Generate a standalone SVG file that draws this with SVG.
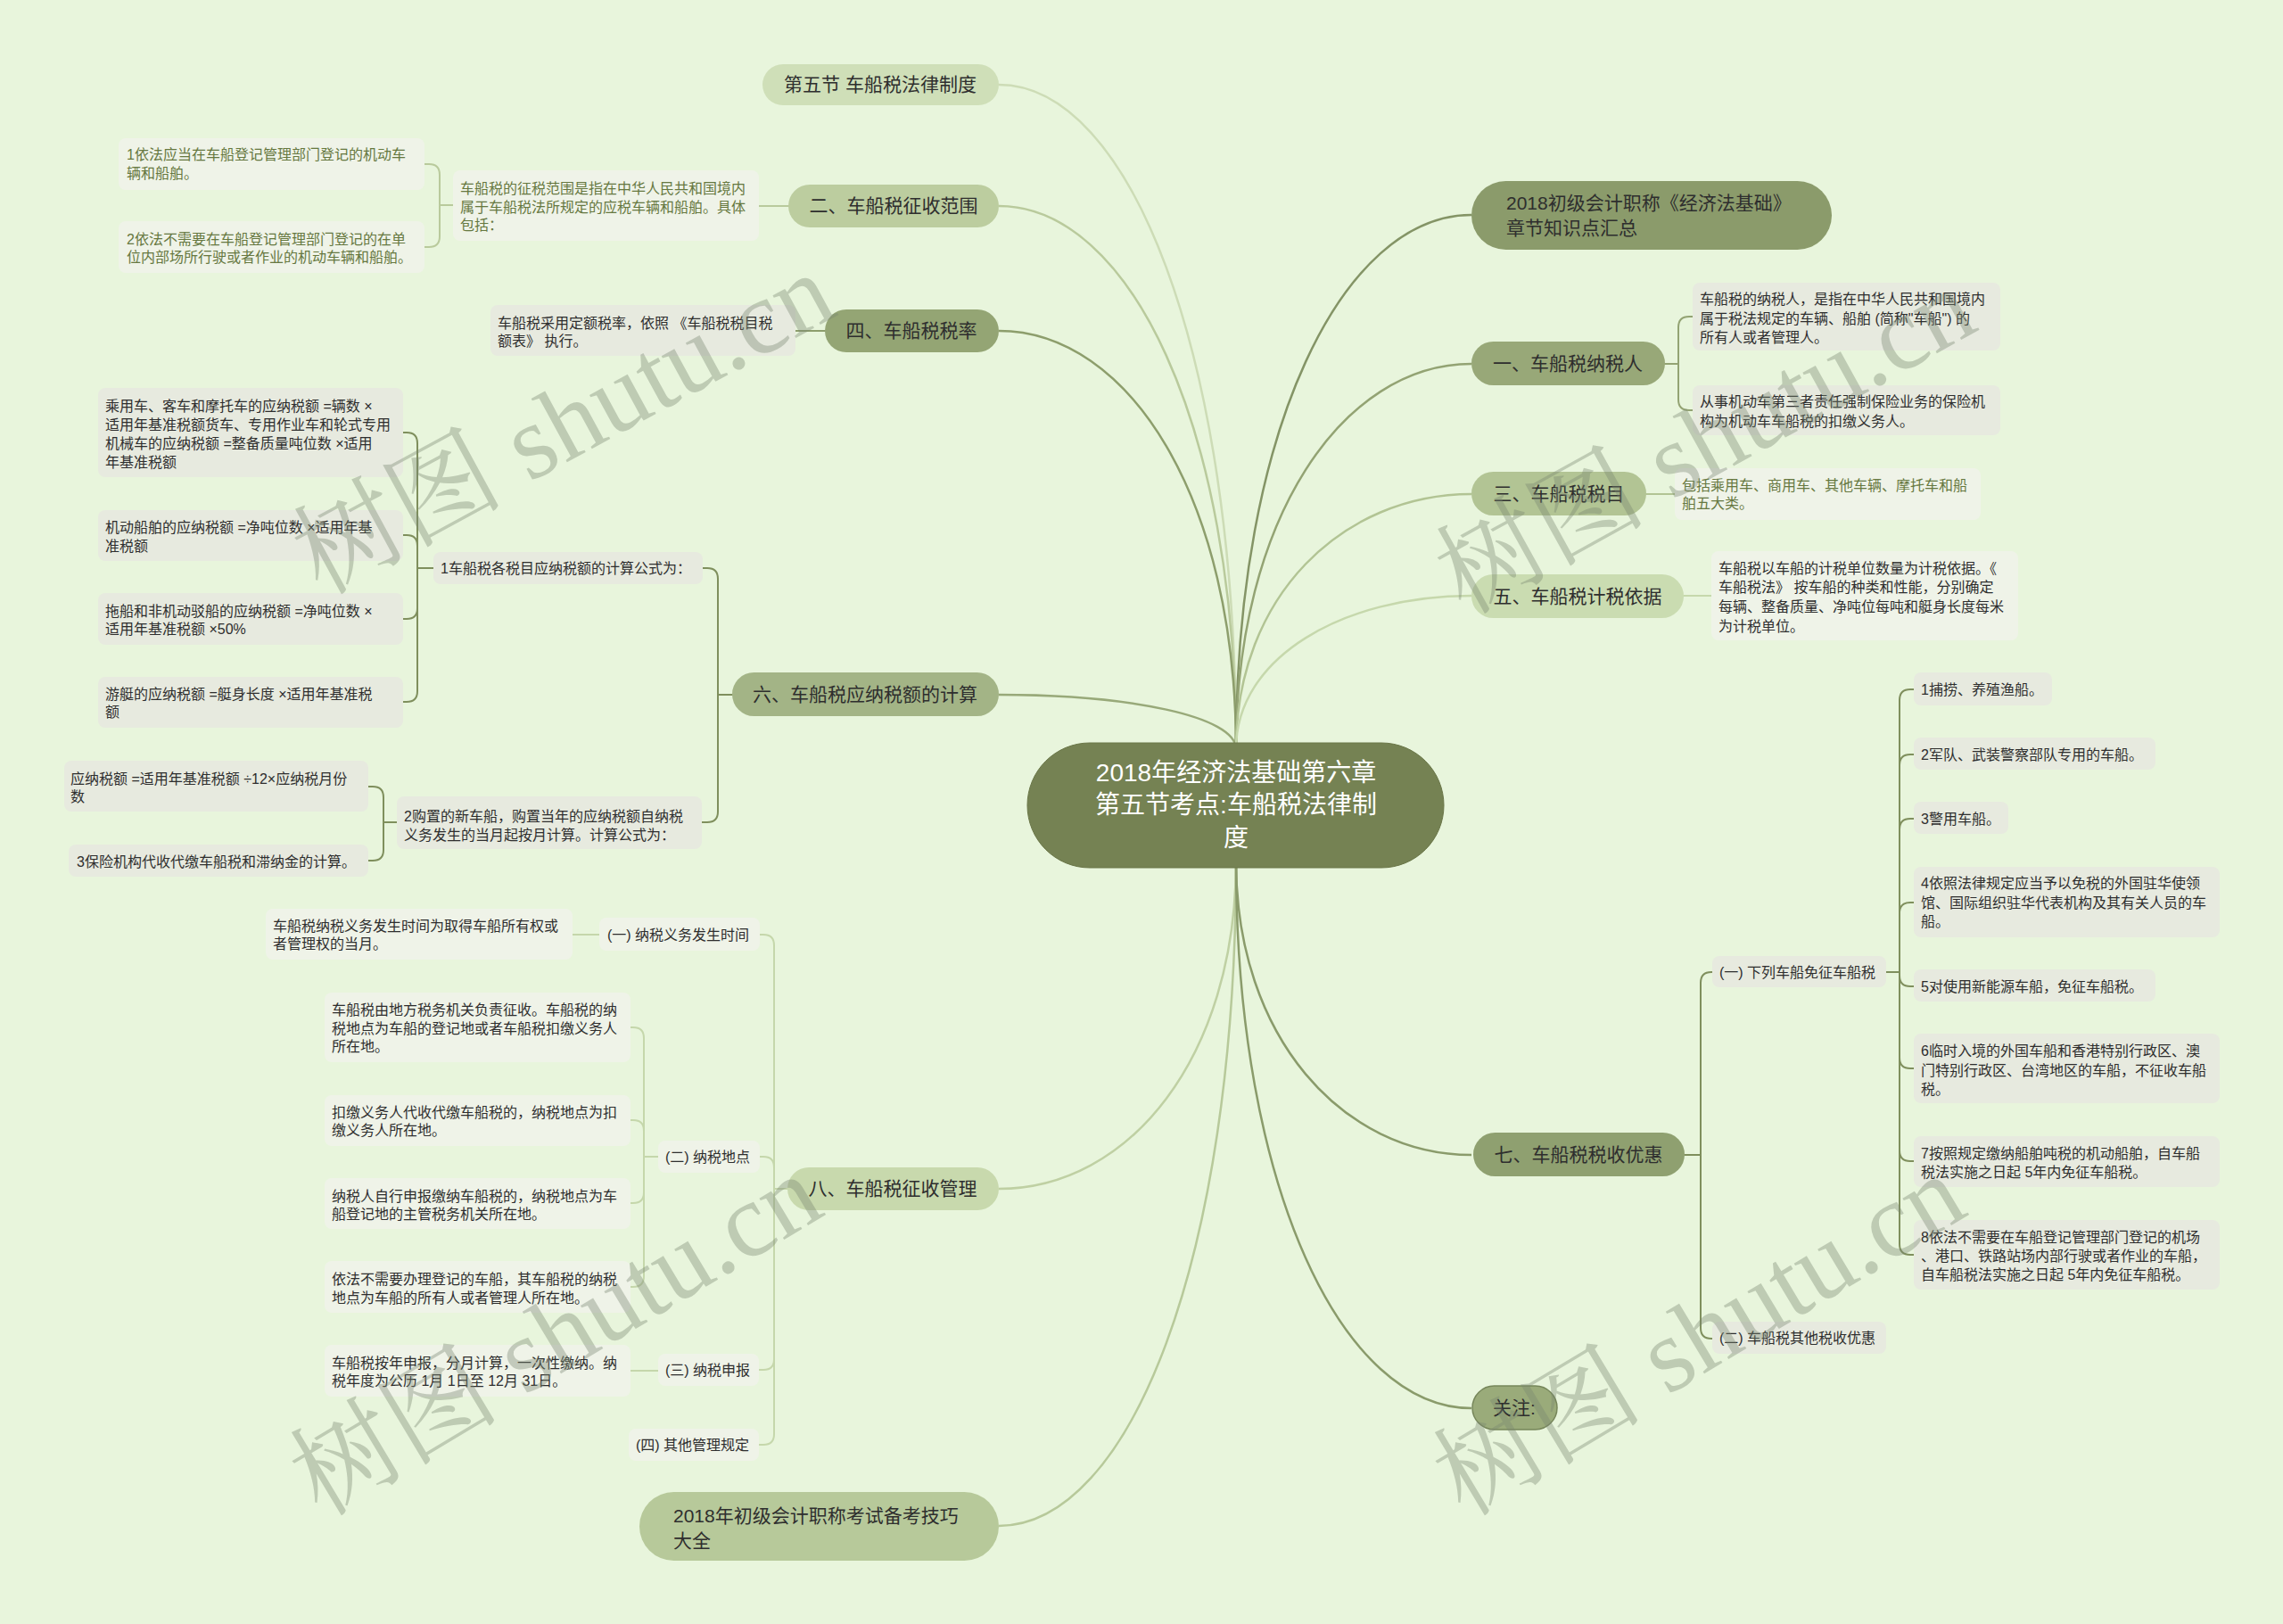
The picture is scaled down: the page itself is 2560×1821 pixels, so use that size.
<svg xmlns="http://www.w3.org/2000/svg" width="2560" height="1821" viewBox="0 0 2560 1821">
<style>
text{font-family:"Liberation Sans","Noto Sans CJK SC",sans-serif;fill:#2e2e2e}
.n{font-size:21px;text-anchor:middle}
.nl{font-size:21px}
.c{font-size:28px;fill:#ffffff;text-anchor:middle}
.t{font-size:16px}
.g{fill:#667840}
.leaf{fill:#e7eadf}
.leafw{fill:#eff3e8}
.br{fill:none;stroke-width:2;stroke-linecap:round}
.main{fill:none;stroke-width:2.5}
.wm{font-family:"Liberation Serif","Noto Serif CJK SC","Noto Sans CJK SC",serif;font-size:118px;fill:#788770;fill-opacity:0.38}
</style>
<rect width="2560" height="1821" fill="#e8f5dc"/>

<g id="connectors">
<path class="main" stroke="#cddcb6" d="M1386,840 C1386,393 1266,95 1120,95"/>
<path class="main" stroke="#b9ca9c" d="M1386,840 C1386,475 1266,231 1120,231"/>
<path class="main" stroke="#8d9e6c" d="M1386,840 C1386,559 1266,371 1120,371"/>
<path class="main" stroke="#98a979" d="M1386,840 C1386,803 1266,779 1120,779"/>
<path class="main" stroke="#bfd0a3" d="M1386,966 C1386,1186 1266,1333 1120,1333"/>
<path class="main" stroke="#b7c99a" d="M1386,966 C1386,1413 1266,1711 1120,1711"/>
<path class="main" stroke="#849466" d="M1386,840 C1386,481 1506,241 1650,241"/>
<path class="main" stroke="#93a373" d="M1386,840 C1386,581 1506,408 1650,408"/>
<path class="main" stroke="#b2c494" d="M1386,840 C1386,668 1506,554 1650,554"/>
<path class="main" stroke="#c6d8ac" d="M1386,840 C1386,737 1506,668 1650,668"/>
<path class="main" stroke="#8a9b6b" d="M1386,966 C1386,1163 1506,1295 1650,1295"/>
<path class="main" stroke="#8a9b6b" d="M1386,966 C1386,1334 1506,1579 1650,1579"/>

<g stroke="#b9ca9c" class="br">
<path d="M884,231 L851,231"/>
<path d="M508,230 L493,230"/>
<path d="M493,230 L493,196 Q493,184 481,184 L476,184"/>
<path d="M493,230 L493,265 Q493,277 481,277 L476,277"/>
</g>
<path class="br" stroke="#8d9e6c" d="M925,371 L892,371"/>
<g stroke="#7f8f5d" class="br">
<path d="M821,779 L805,779"/>
<path d="M805,779 L805,649 Q805,637 793,637 L788,637"/>
<path d="M805,779 L805,910 Q805,922 793,922 L787,922"/>
<path d="M486,637 L468,637"/>
<path d="M468,637 L468,497 Q468,485 456,485 L452,485"/>
<path d="M468,637 L468,612 Q468,600 456,600 L452,600"/>
<path d="M468,637 L468,682 Q468,694 456,694 L452,694"/>
<path d="M468,637 L468,775 Q468,787 456,787 L452,787"/>
<path d="M445,922 L430,922"/>
<path d="M430,922 L430,894 Q430,882 418,882 L413,882"/>
<path d="M430,922 L430,953 Q430,965 418,965 L413,965"/>
</g>
<g stroke="#c5d7ab" class="br">
<path d="M883,1333 L868,1333"/>
<path d="M868,1333 L868,1060 Q868,1048 856,1048 L852,1048"/>
<path d="M868,1333 L868,1309 Q868,1297 856,1297 L852,1297"/>
<path d="M868,1333 L868,1524 Q868,1536 856,1536 L851,1536"/>
<path d="M868,1333 L868,1608 Q868,1620 856,1620 L851,1620"/>
<path d="M672,1048 L642,1048"/>
<path d="M738,1297 L722,1297"/>
<path d="M722,1297 L722,1164 Q722,1152 710,1152 L707,1152"/>
<path d="M722,1297 L722,1268 Q722,1256 710,1256 L707,1256"/>
<path d="M722,1297 L722,1337 Q722,1349 710,1349 L707,1349"/>
<path d="M722,1297 L722,1431 Q722,1443 710,1443 L707,1443"/>
<path d="M738,1537 L707,1537"/>
</g>
<g stroke="#93a373" class="br">
<path d="M1867,408 L1882,408"/>
<path d="M1882,408 L1882,367 Q1882,355 1894,355 L1898,355"/>
<path d="M1882,408 L1882,448 Q1882,460 1894,460 L1898,460"/>
</g>
<path class="br" stroke="#b2c494" d="M1846,554 L1878,554"/>
<path class="br" stroke="#c6d8ac" d="M1888,668 L1919,668"/>
<g stroke="#7f8f5d" class="br">
<path d="M1889,1295 L1907,1295"/>
<path d="M1907,1295 L1907,1102 Q1907,1090 1919,1090 L1920,1090"/>
<path d="M1907,1295 L1907,1489 Q1907,1501 1919,1501 L1920,1501"/>
<path d="M2115,1090 L2130,1090"/>
<path d="M2130,1090 L2130,785 Q2130,773 2142,773 L2146,773"/>
<path d="M2130,1090 L2130,858 Q2130,846 2142,846 L2146,846"/>
<path d="M2130,1090 L2130,930 Q2130,918 2142,918 L2146,918"/>
<path d="M2130,1090 L2130,1024 Q2130,1012 2142,1012 L2146,1012"/>
<path d="M2130,1090 L2130,1094 Q2130,1106 2142,1106 L2146,1106"/>
<path d="M2130,1090 L2130,1186 Q2130,1198 2142,1198 L2146,1198"/>
<path d="M2130,1090 L2130,1290 Q2130,1302 2142,1302 L2146,1302"/>
<path d="M2130,1090 L2130,1395 Q2130,1407 2142,1407 L2146,1407"/>
</g>
</g>

<g id="center">
<rect x="1152" y="833" width="467" height="140" rx="70" fill="#758253" stroke="#6a7648" stroke-width="1"/>
<text class="c" x="1386" y="876">2018年经济法基础第六章</text>
<text class="c" x="1386" y="912">第五节考点:车船税法律制</text>
<text class="c" x="1386" y="949">度</text>
</g>

<g id="n-5">
<rect x="855" y="72" width="265" height="46" rx="23" fill="#cfdfb8"/>
<text class="n" x="987" y="102">第五节 车船税法律制度</text>
</g>
<g id="n-2">
<rect x="884" y="207" width="236" height="48" rx="24" fill="#bccd9f"/>
<text class="n" x="1002" y="238">二、车船税征收范围</text>
</g>
<g id="n-2-a">
<rect class="leafw" x="508" y="191" width="343" height="79" rx="8"/>
<text class="t g" x="516" y="217">车船税的征税范围是指在中华人民共和国境内</text>
<text class="t g" x="516" y="238">属于车船税法所规定的应税车辆和船舶。具体</text>
<text class="t g" x="516" y="258">包括：</text>
</g>
<g id="n-2-a-1">
<rect class="leafw" x="133" y="155" width="343" height="58" rx="8"/>
<text class="t g" x="142" y="179">1依法应当在车船登记管理部门登记的机动车</text>
<text class="t g" x="142" y="200">辆和船舶。</text>
</g>
<g id="n-2-a-2">
<rect class="leafw" x="133" y="248" width="343" height="58" rx="8"/>
<text class="t g" x="142" y="274">2依法不需要在车船登记管理部门登记的在单</text>
<text class="t g" x="142" y="294">位内部场所行驶或者作业的机动车辆和船舶。</text>
</g>

<g id="n-4">
<rect x="925" y="347" width="195" height="48" rx="24" fill="#94a574"/>
<text class="n" x="1022" y="378">四、车船税税率</text>
</g>
<g id="n-4-a">
<rect class="leaf" x="550" y="342" width="342" height="57" rx="8"/>
<text class="t" x="558" y="368">车船税采用定额税率，依照 《车船税税目税</text>
<text class="t" x="558" y="388">额表》 执行。</text>
</g>

<g id="n-6">
<rect x="821" y="754" width="299" height="49" rx="24.5" fill="#a3b486"/>
<text class="n" x="970" y="786">六、车船税应纳税额的计算</text>
</g>
<g id="n-6-1">
<rect class="leaf" x="486" y="619" width="302" height="36" rx="8"/>
<text class="t" x="494" y="643">1车船税各税目应纳税额的计算公式为：</text>
</g>
<g id="n-6-1-a">
<rect class="leaf" x="110" y="435" width="342" height="100" rx="8"/>
<text class="t" x="118" y="461">乘用车、客车和摩托车的应纳税额 =辆数 ×</text>
<text class="t" x="118" y="482">适用年基准税额货车、专用作业车和轮式专用</text>
<text class="t" x="118" y="503">机械车的应纳税额 =整备质量吨位数 ×适用</text>
<text class="t" x="118" y="524">年基准税额</text>
</g>
<g id="n-6-1-b">
<rect class="leaf" x="110" y="572" width="342" height="57" rx="8"/>
<text class="t" x="118" y="597">机动船舶的应纳税额 =净吨位数 ×适用年基</text>
<text class="t" x="118" y="618">准税额</text>
</g>
<g id="n-6-1-c">
<rect class="leaf" x="110" y="665" width="342" height="58" rx="8"/>
<text class="t" x="118" y="691">拖船和非机动驳船的应纳税额 =净吨位数 ×</text>
<text class="t" x="118" y="711">适用年基准税额 ×50%</text>
</g>
<g id="n-6-1-d">
<rect class="leaf" x="110" y="759" width="342" height="57" rx="8"/>
<text class="t" x="118" y="784">游艇的应纳税额 =艇身长度 ×适用年基准税</text>
<text class="t" x="118" y="804">额</text>
</g>
<g id="n-6-2">
<rect class="leaf" x="445" y="893" width="342" height="59" rx="8"/>
<text class="t" x="453" y="921">2购置的新车船，购置当年的应纳税额自纳税</text>
<text class="t" x="453" y="942">义务发生的当月起按月计算。计算公式为：</text>
</g>
<g id="n-6-2-a">
<rect class="leaf" x="72" y="853" width="341" height="57" rx="8"/>
<text class="t" x="79" y="879">应纳税额 =适用年基准税额 ÷12×应纳税月份</text>
<text class="t" x="79" y="899">数</text>
</g>
<g id="n-6-2-b">
<rect class="leaf" x="77" y="947" width="336" height="36" rx="8"/>
<text class="t" x="86" y="972">3保险机构代收代缴车船税和滞纳金的计算。</text>
</g>

<g id="n-8">
<rect x="883" y="1309" width="237" height="48" rx="24" fill="#c8d9ad"/>
<text class="n" x="1001" y="1340">八、车船税征收管理</text>
</g>
<g id="n-8-1">
<rect class="leafw" x="672" y="1029" width="180" height="37" rx="8"/>
<text class="t" x="681" y="1054">(一) 纳税义务发生时间</text>
</g>
<g id="n-8-1-a">
<rect class="leafw" x="298" y="1019" width="344" height="57" rx="8"/>
<text class="t" x="306" y="1044">车船税纳税义务发生时间为取得车船所有权或</text>
<text class="t" x="306" y="1064">者管理权的当月。</text>
</g>
<g id="n-8-2">
<rect class="leafw" x="738" y="1279" width="114" height="36" rx="8"/>
<text class="t" x="746" y="1303">(二) 纳税地点</text>
</g>
<g id="n-8-2-a">
<rect class="leafw" x="364" y="1113" width="343" height="78" rx="8"/>
<text class="t" x="372" y="1138">车船税由地方税务机关负责征收。车船税的纳</text>
<text class="t" x="372" y="1159">税地点为车船的登记地或者车船税扣缴义务人</text>
<text class="t" x="372" y="1179">所在地。</text>
</g>
<g id="n-8-2-b">
<rect class="leafw" x="364" y="1228" width="343" height="57" rx="8"/>
<text class="t" x="372" y="1253">扣缴义务人代收代缴车船税的，纳税地点为扣</text>
<text class="t" x="372" y="1273">缴义务人所在地。</text>
</g>
<g id="n-8-2-c">
<rect class="leafw" x="364" y="1321" width="343" height="57" rx="8"/>
<text class="t" x="372" y="1347">纳税人自行申报缴纳车船税的，纳税地点为车</text>
<text class="t" x="372" y="1367">船登记地的主管税务机关所在地。</text>
</g>
<g id="n-8-2-d">
<rect class="leafw" x="364" y="1414" width="343" height="58" rx="8"/>
<text class="t" x="372" y="1440">依法不需要办理登记的车船，其车船税的纳税</text>
<text class="t" x="372" y="1461">地点为车船的所有人或者管理人所在地。</text>
</g>
<g id="n-8-3">
<rect class="leafw" x="738" y="1518" width="113" height="36" rx="8"/>
<text class="t" x="746" y="1542">(三) 纳税申报</text>
</g>
<g id="n-8-3-a">
<rect class="leafw" x="364" y="1508" width="343" height="58" rx="8"/>
<text class="t" x="372" y="1534">车船税按年申报，分月计算，一次性缴纳。纳</text>
<text class="t" x="372" y="1554">税年度为公历 1月 1日至 12月 31日。</text>
</g>
<g id="n-8-4">
<rect class="leafw" x="705" y="1602" width="146" height="36" rx="8"/>
<text class="t" x="713" y="1626">(四) 其他管理规定</text>
</g>

<g id="n-exam">
<rect x="717" y="1673" width="403" height="77" rx="38.5" fill="#b7c99a"/>
<text class="nl" x="755" y="1707">2018年初级会计职称考试备考技巧</text>
<text class="nl" x="755" y="1735">大全</text>
</g>

<g id="n-summary">
<rect x="1650" y="203" width="404" height="77" rx="38.5" fill="#8b9b6b"/>
<text class="nl" x="1689" y="235">2018初级会计职称《经济法基础》</text>
<text class="nl" x="1689" y="263">章节知识点汇总</text>
</g>
<g id="n-1">
<rect x="1650" y="383" width="217" height="49" rx="24.5" fill="#98a878"/>
<text class="n" x="1758" y="415">一、车船税纳税人</text>
</g>
<g id="n-1-a">
<rect class="leaf" x="1898" y="317" width="345" height="76" rx="8"/>
<text class="t" x="1906" y="341">车船税的纳税人，是指在中华人民共和国境内</text>
<text class="t" x="1906" y="363">属于税法规定的车辆、船舶 (简称"车船") 的</text>
<text class="t" x="1906" y="384">所有人或者管理人。</text>
</g>
<g id="n-1-b">
<rect class="leaf" x="1898" y="432" width="345" height="56" rx="8"/>
<text class="t" x="1906" y="456">从事机动车第三者责任强制保险业务的保险机</text>
<text class="t" x="1906" y="478">构为机动车车船税的扣缴义务人。</text>
</g>
<g id="n-3">
<rect x="1650" y="529" width="196" height="49" rx="24.5" fill="#b2c494"/>
<text class="n" x="1748" y="561">三、车船税税目</text>
</g>
<g id="n-3-a">
<rect class="leafw" x="1878" y="525" width="343" height="58" rx="8"/>
<text class="t g" x="1886" y="550">包括乘用车、商用车、其他车辆、摩托车和船</text>
<text class="t g" x="1886" y="570">舶五大类。</text>
</g>
<g id="n-5b">
<rect x="1650" y="644" width="238" height="49" rx="24.5" fill="#cadcb1"/>
<text class="n" x="1769" y="676">五、车船税计税依据</text>
</g>
<g id="n-5b-a">
<rect class="leafw" x="1919" y="618" width="344" height="100" rx="8"/>
<text class="t" x="1927" y="643">车船税以车船的计税单位数量为计税依据。《</text>
<text class="t" x="1927" y="664">车船税法》 按车船的种类和性能，分别确定</text>
<text class="t" x="1927" y="686">每辆、整备质量、净吨位每吨和艇身长度每米</text>
<text class="t" x="1927" y="708">为计税单位。</text>
</g>

<g id="n-7">
<rect x="1652" y="1270" width="237" height="49" rx="24.5" fill="#8fa070"/>
<text class="n" x="1770" y="1302">七、车船税税收优惠</text>
</g>
<g id="n-7-1">
<rect class="leaf" x="1920" y="1072" width="195" height="35" rx="8"/>
<text class="t" x="1928" y="1096">(一) 下列车船免征车船税</text>
</g>
<g id="n-7-2">
<rect class="leaf" x="1920" y="1482" width="195" height="36" rx="8"/>
<text class="t" x="1928" y="1506">(二) 车船税其他税收优惠</text>
</g>
<g id="n-7-1-1">
<rect class="leaf" x="2146" y="754" width="155" height="37" rx="8"/>
<text class="t" x="2154" y="779">1捕捞、养殖渔船。</text>
</g>
<g id="n-7-1-2">
<rect class="leaf" x="2146" y="827" width="271" height="36" rx="8"/>
<text class="t" x="2154" y="852">2军队、武装警察部队专用的车船。</text>
</g>
<g id="n-7-1-3">
<rect class="leaf" x="2146" y="899" width="106" height="36" rx="8"/>
<text class="t" x="2154" y="924">3警用车船。</text>
</g>
<g id="n-7-1-4">
<rect class="leaf" x="2146" y="972" width="343" height="79" rx="8"/>
<text class="t" x="2154" y="996">4依照法律规定应当予以免税的外国驻华使领</text>
<text class="t" x="2154" y="1018">馆、国际组织驻华代表机构及其有关人员的车</text>
<text class="t" x="2154" y="1039">船。</text>
</g>
<g id="n-7-1-5">
<rect class="leaf" x="2146" y="1087" width="271" height="36" rx="8"/>
<text class="t" x="2154" y="1112">5对使用新能源车船，免征车船税。</text>
</g>
<g id="n-7-1-6">
<rect class="leaf" x="2146" y="1159" width="343" height="78" rx="8"/>
<text class="t" x="2154" y="1184">6临时入境的外国车船和香港特别行政区、澳</text>
<text class="t" x="2154" y="1206">门特别行政区、台湾地区的车船，不征收车船</text>
<text class="t" x="2154" y="1227">税。</text>
</g>
<g id="n-7-1-7">
<rect class="leaf" x="2146" y="1274" width="343" height="57" rx="8"/>
<text class="t" x="2154" y="1299">7按照规定缴纳船舶吨税的机动船舶，自车船</text>
<text class="t" x="2154" y="1320">税法实施之日起 5年内免征车船税。</text>
</g>
<g id="n-7-1-8">
<rect class="leaf" x="2146" y="1368" width="343" height="78" rx="8"/>
<text class="t" x="2154" y="1393">8依法不需要在车船登记管理部门登记的机场</text>
<text class="t" x="2154" y="1414">、港口、铁路站场内部行驶或者作业的车船，</text>
<text class="t" x="2154" y="1435">自车船税法实施之日起 5年内免征车船税。</text>
</g>
<g id="n-follow">
<rect x="1651" y="1554" width="95" height="49" rx="24.5" fill="#9aab7a" stroke="#76865a" stroke-width="1.5"/>
<text class="n" x="1698" y="1586">关注:</text>
</g>

<g id="watermarks">
<text class="wm" transform="translate(360,668) rotate(-28.5)">树图 shutu.cn</text>
<text class="wm" transform="translate(1642,690) rotate(-29)">树图 shutu.cn</text>
<text class="wm" transform="translate(360,1702) rotate(-31)">树图 shutu.cn</text>
<text class="wm" transform="translate(1642,1702) rotate(-31)">树图 shutu.cn</text>
</g>
</svg>
